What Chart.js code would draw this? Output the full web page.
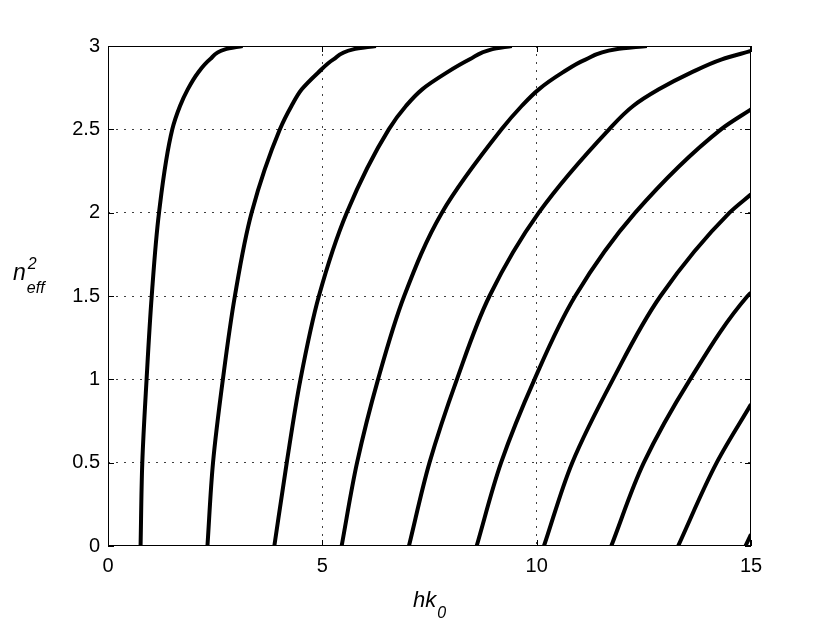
<!DOCTYPE html>
<html><head><meta charset="utf-8">
<script src="https://cdn.jsdelivr.net/npm/chart.js@4.4.1/dist/chart.umd.min.js"></script>
<style>html,body{margin:0;padding:0;background:#fff}#wrap{width:830px;height:625px;position:relative}</style>
</head><body><div id="wrap"><canvas id="c" width="830" height="625"></canvas></div>
<script>
// Tick labels
const xTicks = [0, 5, 10, 15];
const yTicks = [0, 0.5, 1, 1.5, 2, 2.5, 3];

// Mode curves: hk0 (x) and n_eff^2 (y)
const mode1_hk = [0.76, 0.80, 0.90, 1.02, 1.19, 1.50, 1.68, 1.86, 2.10, 2.38, 2.73, 3.14];
const mode1_n2 = [0, 0.5, 1.0, 1.5, 2.0, 2.5, 2.64, 2.74, 2.84, 2.92, 2.98, 3.0];
const mode2_hk = [2.32, 2.45, 2.68, 2.96, 3.35, 4.01, 4.28, 4.52, 4.90, 5.26, 5.72, 6.25];
const mode2_n2 = [0, 0.5, 1.0, 1.5, 2.0, 2.5, 2.64, 2.74, 2.84, 2.92, 2.98, 3.0];
const mode3_hk = [3.88, 4.17, 4.49, 4.92, 5.57, 6.55, 6.95, 7.33, 7.90, 8.44, 8.95, 9.42];
const mode3_n2 = [0, 0.5, 1.0, 1.5, 2.0, 2.5, 2.64, 2.74, 2.84, 2.92, 2.98, 3.0];
const mode4_hk = [5.45, 5.81, 6.30, 6.91, 7.79, 9.18, 9.65, 10.05, 10.60, 11.15, 11.85, 12.57];
const mode4_n2 = [0, 0.5, 1.0, 1.5, 2.0, 2.5, 2.64, 2.74, 2.84, 2.92, 2.98, 3.0];
const mode5_hk = [7.02, 7.50, 8.14, 8.90, 10.05, 11.69, 12.25, 12.85, 13.60, 14.32, 15.0];
const mode5_n2 = [0, 0.5, 1.0, 1.5, 2.0, 2.5, 2.64, 2.74, 2.84, 2.92, 2.97];
const mode6_hk = [8.60, 9.17, 9.95, 10.90, 12.30, 14.30, 15.0];
const mode6_n2 = [0, 0.5, 1.0, 1.5, 2.0, 2.5, 2.62];
const mode7_hk = [10.17, 10.83, 11.78, 12.89, 14.50, 15.0];
const mode7_n2 = [0, 0.5, 1.0, 1.5, 2.0, 2.11];
const mode8_hk = [11.74, 12.50, 13.58, 14.92, 15.0];
const mode8_n2 = [0, 0.5, 1.0, 1.5, 1.52];
const mode9_hk = [13.30, 14.20, 15.0];
const mode9_n2 = [0, 0.5, 0.85];
const mode10_hk = [14.87, 15.0];
const mode10_n2 = [0, 0.07];

const modes = [
  [mode1_hk, mode1_n2], [mode2_hk, mode2_n2], [mode3_hk, mode3_n2], [mode4_hk, mode4_n2],
  [mode5_hk, mode5_n2], [mode6_hk, mode6_n2], [mode7_hk, mode7_n2], [mode8_hk, mode8_n2],
  [mode9_hk, mode9_n2], [mode10_hk, mode10_n2]
];

const datasets = modes.map(([hk, n2], k) => ({
  label: 'mode ' + k,
  data: hk.map((x, i) => ({x: x, y: n2[i]})),
  borderColor: '#000',
  borderWidth: 4,
  pointRadius: 0,
  cubicInterpolationMode: 'monotone',
  fill: false
}));

const FONT = "'Liberation Sans', Arial, Helvetica, sans-serif";

const boxPlugin = {
  id: 'box',
  afterDraw(chart) {
    const ctx = chart.ctx, a = chart.chartArea;
    const xs = chart.scales.x, ys = chart.scales.y;
    ctx.save();
    ctx.strokeStyle = '#000';
    ctx.lineWidth = 1;
    ctx.strokeRect(a.left + 0.5, a.top + 0.5, a.right - a.left - 1, a.bottom - a.top - 1);
    const tl = 6;
    ctx.beginPath();
    xTicks.forEach(v => {
      const p = Math.round(xs.getPixelForValue(v)) + 0.5;
      ctx.moveTo(p, a.bottom); ctx.lineTo(p, a.bottom - tl);
      ctx.moveTo(p, a.top); ctx.lineTo(p, a.top + tl);
    });
    yTicks.forEach(v => {
      const p = Math.round(ys.getPixelForValue(v)) + 0.5;
      ctx.moveTo(a.left, p); ctx.lineTo(a.left + tl, p);
      ctx.moveTo(a.right, p); ctx.lineTo(a.right - tl, p);
    });
    ctx.stroke();

    // axis titles
    ctx.fillStyle = '#000';
    ctx.textBaseline = 'alphabetic';
    ctx.textAlign = 'left';
    ctx.font = "italic 22px " + FONT;
    ctx.fillText('hk', 413, 607);
    const wHk = ctx.measureText('hk').width;
    ctx.font = "italic 16px " + FONT;
    ctx.fillText('0', 413 + wHk + 1, 618);
    ctx.font = "italic 23px " + FONT;
    ctx.fillText('n', 13, 280);
    const wN = ctx.measureText('n').width;
    ctx.font = "italic 16px " + FONT;
    ctx.fillText('2', 13 + wN + 2, 269);
    ctx.fillText('eff', 13 + wN + 1, 293);
    ctx.restore();
  }
};

new Chart(document.getElementById('c'), {
  type: 'line',
  data: { datasets: datasets },
  options: {
    indexAxis: 'y',
    responsive: false,
    animation: false,
    devicePixelRatio: 1,
    layout: { padding: { left: 0, right: 79, top: 46, bottom: 0 } },
    plugins: { legend: { display: false }, tooltip: { enabled: false } },
    scales: {
      x: {
        type: 'linear', min: 0, max: 15, position: 'bottom',
        afterBuildTicks: (s) => { s.ticks = xTicks.map(v => ({value: v})); },
        afterFit: (s) => { s.height = 79; },
        grid: {
          drawTicks: false, lineWidth: 1,
          color: (c) => (c.tick && (c.tick.value === 0 || c.tick.value === 15)) ? 'rgba(0,0,0,0)' : 'rgba(0,0,0,0.75)'
        },
        border: { display: false, dash: [2, 6] },
        ticks: { color: '#000', font: { family: FONT, size: 20 }, padding: 8, maxRotation: 0,
          callback: (v) => String(v) }
      },
      y: {
        type: 'linear', min: 0, max: 3, position: 'left', reverse: false,
        afterBuildTicks: (s) => { s.ticks = yTicks.map(v => ({value: v})); },
        afterFit: (s) => { s.width = 108; },
        grid: {
          drawTicks: false, lineWidth: 1,
          color: (c) => (c.tick && (c.tick.value === 0 || c.tick.value === 3)) ? 'rgba(0,0,0,0)' : 'rgba(0,0,0,0.75)'
        },
        border: { display: false, dash: [2, 6] },
        ticks: { color: '#000', font: { family: FONT, size: 20 }, padding: 8,
          callback: (v) => String(v) }
      }
    }
  },
  plugins: [boxPlugin]
});
</script>
</body></html>
